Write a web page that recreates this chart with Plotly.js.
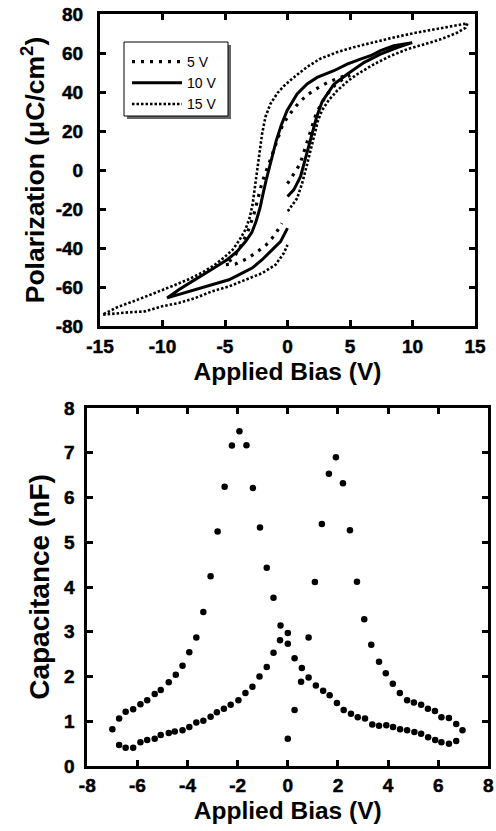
<!DOCTYPE html>
<html>
<head>
<meta charset="utf-8">
<script src="https://cdn.plot.ly/plotly-3.0.1.min.js"></script>
<style>
html,body{margin:0;padding:0;background:#fff;}
#chart{width:496px;height:831px;}
#chart .xtick text, #chart .ytick text, #chart .x2tick text, #chart .y2tick text{stroke:#000;stroke-width:0.5px;}
</style>
</head>
<body>
<div id="chart"></div>
<script>
// ---------- Hysteresis loops (top panel) ----------
const loopNames = ['5 V', '10 V', '15 V'];

const bias5V = [0, 0.5, 1.0, 1.3, 1.55, 1.75, 2.0, 2.3, 2.7, 3.2, 3.8, 4.4, 5.0,
  4.6, 4.2, 3.3, 2.4, 1.6, 0.9, 0.15, -0.4, -0.7, -1.0, -1.3, -1.6, -1.85, -2.1, -2.35, -2.7, -3.2, -3.7, -4.3, -5.0,
  -4.2, -3.3, -2.5, -1.7, -1.0, -0.45];
const pol5V = [-7, -2, 3, 9, 14, 19, 24, 29, 34, 39, 43.5, 46.5, 48.5,
  48.3, 47.4, 45.2, 42, 38.6, 34.5, 28.5, 23, 18, 12, 6.5, 1.5, -3, -8, -14, -23, -32, -38.5, -45, -48.5,
  -48.3, -45.7, -42.3, -38.4, -33.2, -27.3];

const bias10V = [0, 0.5, 1.04, 1.31, 1.6, 2.0, 2.32, 2.77, 3.71, 4.77, 6.11, 7.44, 8.77, 9.97,
  8.51, 7.44, 6.64, 5.84, 4.77, 3.71, 2.37, 1.57, 0.77, -0.03, -0.5, -0.9, -1.2, -1.45, -1.7, -1.95, -2.2, -2.5, -2.85, -3.36, -4.03, -4.83, -5.63, -6.56, -7.63, -8.7, -9.63,
  -8.43, -7.36, -6.03, -4.69, -3.63, -2.83, -2.03, -1.23, -0.56, 0];
const pol10V = [-13.6, -10.2, -3.4, 3.1, 10, 20, 27, 35, 44, 49.1, 55.1, 59.4, 62.8, 65.3,
  63.7, 61.2, 58.6, 56.9, 54.3, 50.9, 47.5, 44.1, 39, 30.5, 23, 15, 8, 2, -5, -12, -19.5, -26, -32, -36.7, -41.8, -46, -49.4, -52.9, -57.1, -61.4, -65.6,
  -63.4, -61.4, -58.8, -56.3, -52.9, -50.3, -46, -40.9, -36.7, -29.8];

const bias15V = [0, 0.1, 0.77, 1.17, 1.52, 1.84, 2.16, 2.45, 2.77, 3.3, 4.0, 4.9, 5.57, 6.91, 8.24, 9.57, 10.91, 12.24, 13.57, 14.24, 14.4,
  13.3, 12.0, 10.1, 8.2, 6.6, 5.3, 4.0, 2.6, 1.6, 0.5, -0.3, -0.8, -1.36, -1.76, -2.03, -2.25, -2.43, -2.6, -2.8, -3.05, -3.4, -3.85, -4.4, -5.1, -5.9, -6.8, -7.9, -9.2, -10.6, -12.1, -13.6, -14.8,
  -12.7, -11.4, -10.03, -8.7, -7.36, -6.03, -4.69, -3.36, -2.03, -0.96, -0.29, 0];
const pol15V = [-21, -20.5, -14.5, -6.8, 1.7, 10.2, 18.8, 25.6, 30.7, 35.8, 40.9, 46, 49.1, 54.2, 58.5, 61.9, 64.4, 67, 70.4, 72.9, 75.2,
  74, 72.3, 70.2, 67.5, 65, 63, 60.5, 57, 53, 47.5, 43, 39.5, 34, 27.3, 18.7, 8.5, -1.7, -10, -18, -25, -31, -36, -41, -45, -49, -52.5, -56, -59.5, -63.1, -66.8, -70.3, -74.2,
  -73, -72.5, -69.9, -68.2, -65.6, -62.2, -59.7, -56.3, -52.9, -48.6, -42.6, -38.4];

// ---------- Capacitance-voltage (bottom panel) ----------
const biasSweepA = [-7.0, -6.73, -6.47, -6.17, -5.88, -5.61, -5.31, -5.07, -4.75, -4.47, -4.2, -3.93, -3.65, -3.37, -3.08, -2.8, -2.52, -2.23, -1.93, -1.65, -1.39, -1.11, -0.84, -0.57, -0.29, 0,
  0.27, 0.56, 0.83, 1.12, 1.41, 1.67, 1.96, 2.23, 2.52, 2.79, 3.08, 3.37, 3.64, 3.93, 4.2, 4.48, 4.76, 5.05, 5.32, 5.6, 5.88, 6.13, 6.43, 6.72];
const capSweepA = [0.82, 1.06, 1.21, 1.27, 1.38, 1.47, 1.61, 1.70, 1.87, 2.04, 2.24, 2.54, 2.87, 3.44, 4.24, 5.24, 6.24, 7.16, 7.48, 7.17, 6.21, 5.33, 4.43, 3.76, 3.14, 2.97,
  2.41, 2.19, 1.98, 1.80, 1.68, 1.58, 1.41, 1.25, 1.17, 1.09, 1.06, 0.93, 0.90, 0.91, 0.87, 0.82, 0.80, 0.76, 0.72, 0.64, 0.58, 0.53, 0.50, 0.56];

const biasSweepB = [-6.73, -6.47, -6.17, -5.88, -5.61, -5.31, -5.07, -4.75, -4.51, -4.2, -3.93, -3.65, -3.37, -3.08, -2.83, -2.55, -2.28, -1.97, -1.69, -1.41, -1.13, -0.84, -0.57, -0.31, 0, 0, 0.27, 0.53,
  0.83, 1.08, 1.36, 1.64, 1.92, 2.2, 2.48, 2.76, 3.05, 3.33, 3.64, 3.91, 4.19, 4.47, 4.76, 5.03, 5.32, 5.59, 5.87, 6.13, 6.43, 6.72, 6.97];
const capSweepB = [0.47, 0.41, 0.41, 0.53, 0.58, 0.61, 0.69, 0.74, 0.77, 0.80, 0.87, 0.97, 1.01, 1.10, 1.20, 1.28, 1.37, 1.47, 1.63, 1.77, 2.0, 2.21, 2.53, 2.81, 2.73, 0.61, 1.25, 1.88,
  2.87, 4.11, 5.41, 6.53, 6.90, 6.32, 5.27, 4.12, 3.28, 2.71, 2.33, 2.07, 1.84, 1.63, 1.47, 1.42, 1.37, 1.28, 1.23, 1.09, 1.07, 0.94, 0.80];

const polTicks = [-80, -60, -40, -20, 0, 20, 40, 60, 80];
const loopBiasTicks = [-15, -10, -5, 0, 5, 10, 15];
const capTicks = [0, 1, 2, 3, 4, 5, 6, 7, 8];
const cvBiasTicks = [-8, -6, -4, -2, 0, 2, 4, 6, 8];

// ---------- figure ----------
const W = 496, H = 831;
const px = v => v / W;
const py = v => 1 - v / H;
const FONT = 'Liberation Sans, Arial, sans-serif';
const tickFont = {family: FONT, size: 19, color: '#000', weight: 700};
const titleFont = s => ({family: FONT, size: s, color: '#000', weight: 700});
const bold = arr => arr.map(v => '<b>' + v + '</b>');

function axisStyle(extra) {
  return Object.assign({
    showline: true, linewidth: 3, linecolor: '#000', mirror: 'ticks',
    ticks: 'inside', ticklen: 6, tickwidth: 3, tickcolor: '#000',
    showgrid: false, zeroline: false, tickfont: tickFont, tickmode: 'array',
    fixedrange: true
  }, extra);
}

const traces = [
  {x: bias5V, y: pol5V, name: loopNames[0], mode: 'lines', xaxis: 'x', yaxis: 'y',
   line: {color: '#000', width: 3.2, dash: '3px,6px'}},
  {x: bias10V, y: pol10V, name: loopNames[1], mode: 'lines', xaxis: 'x', yaxis: 'y',
   line: {color: '#000', width: 3}},
  {x: bias15V, y: pol15V, name: loopNames[2], mode: 'lines', xaxis: 'x', yaxis: 'y',
   line: {color: '#000', width: 2.6, dash: '2.5px,2px'}},
  {x: biasSweepA, y: capSweepA, mode: 'markers', xaxis: 'x2', yaxis: 'y2', showlegend: false,
   marker: {color: '#000', size: 6.5}},
  {x: biasSweepB, y: capSweepB, mode: 'markers', xaxis: 'x2', yaxis: 'y2', showlegend: false,
   marker: {color: '#000', size: 6.5}}
];

const layout = {
  width: W, height: H,
  margin: {l: 0, r: 0, t: 0, b: 0},
  paper_bgcolor: '#fff', plot_bgcolor: '#fff',
  showlegend: true,
  xaxis: axisStyle({domain: [px(100), px(475)], range: [-15, 15], tickvals: loopBiasTicks,
    ticktext: bold(loopBiasTicks), ticklabelstandoff: 1,
    anchor: 'y', title: {text: '<b>Applied Bias (V)</b>', font: titleFont(24.5), standoff: 8}}),
  yaxis: axisStyle({domain: [py(326), py(14)], range: [-80, 80], tickvals: polTicks,
    ticktext: bold(polTicks), ticklabelstandoff: 10,
    anchor: 'x', title: {text: '<b>Polarization (μC/cm<sup>2</sup>)</b>', font: titleFont(26.5), standoff: 4}}),
  xaxis2: axisStyle({domain: [px(87.3), px(488.3)], range: [-8, 8], tickvals: cvBiasTicks,
    ticktext: bold(cvBiasTicks), ticklabelstandoff: 0,
    anchor: 'y2', title: {text: '<b>Applied Bias (V)</b>', font: titleFont(24.5), standoff: 8}}),
  yaxis2: axisStyle({domain: [py(766), py(408)], range: [0, 8], tickvals: capTicks,
    ticktext: bold(capTicks), ticklabelstandoff: 6,
    anchor: 'x2', title: {text: '<b>Capacitance (nF)</b>', font: titleFont(28), standoff: 7}}),
  legend: {x: px(127), y: py(46), xanchor: 'left', yanchor: 'top',
    bgcolor: 'rgba(0,0,0,0)', borderwidth: 0, itemwidth: 50,
    font: {family: FONT, size: 14, color: '#000'}, tracegroupgap: 0},
  shapes: [
    {type: 'rect', xref: 'paper', yref: 'paper', layer: 'above',
     x0: px(127), x1: px(231), y0: py(119), y1: py(45),
     fillcolor: '#666', line: {width: 0}},
    {type: 'rect', xref: 'paper', yref: 'paper', layer: 'above',
     x0: px(124), x1: px(228), y0: py(116), y1: py(42),
     fillcolor: '#fff', line: {color: '#000', width: 1}}
  ]
};

Plotly.newPlot('chart', traces, layout, {displayModeBar: false, staticPlot: true});
</script>
</body>
</html>
